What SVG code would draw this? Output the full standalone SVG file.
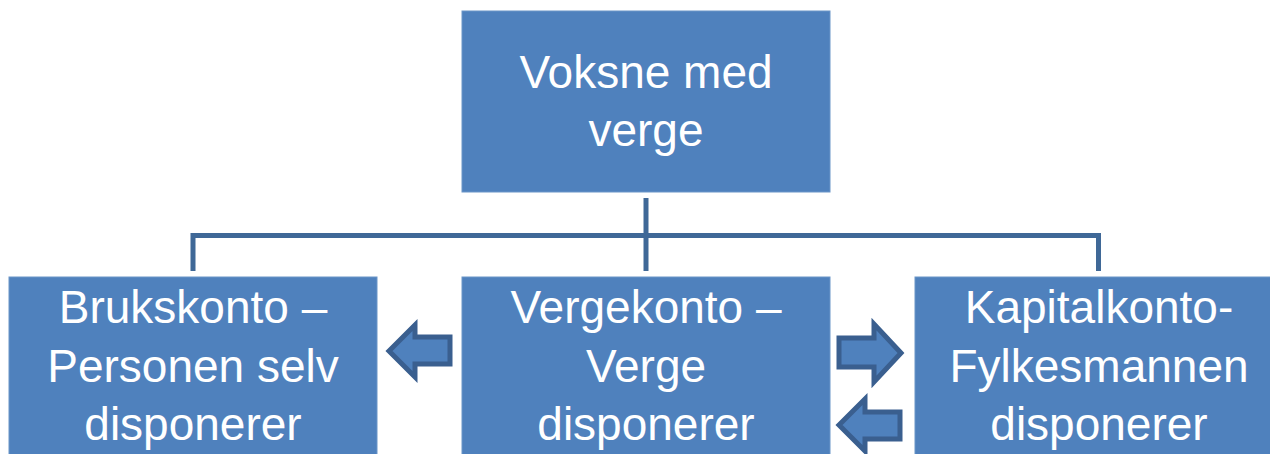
<svg xmlns="http://www.w3.org/2000/svg" width="1270" height="454" viewBox="0 0 1270 454">
<style>
.box{fill:#4f81bd;stroke:#6b95c8;stroke-width:1}
.t{font-family:"Liberation Sans",Arial,sans-serif;font-size:46px;fill:#ffffff;text-anchor:middle}
.conn{fill:none;stroke:#3f6897;stroke-width:5}
.arr{fill:#4f81bd;stroke:#3a5f8f;stroke-width:5;stroke-linejoin:miter}
</style>
<rect width="1270" height="454" fill="#ffffff"/>
<g id="connectors">
<path class="conn" d="M646 198V271"/>
<path class="conn" d="M193 271V235.5H1098.5V271"/>
</g>
<g id="top">
<rect class="box" x="462" y="11" width="368" height="181"/>
<text class="t" x="646" y="88">Voksne med</text>
<text class="t" x="646" y="146">verge</text>
</g>
<g id="left">
<rect class="box" x="9" y="277" width="368" height="190"/>
<text class="t" x="193" y="323">Brukskonto –</text>
<text class="t" x="193" y="382">Personen selv</text>
<text class="t" x="193" y="440">disponerer</text>
</g>
<g id="middle">
<rect class="box" x="462" y="277" width="368" height="190"/>
<text class="t" x="646" y="323">Vergekonto –</text>
<text class="t" x="646" y="382">Verge</text>
<text class="t" x="646" y="440">disponerer</text>
</g>
<g id="right">
<rect class="box" x="915" y="277" width="368" height="190"/>
<text class="t" x="1099" y="323">Kapitalkonto-</text>
<text class="t" x="1099" y="382">Fylkesmannen</text>
<text class="t" x="1099" y="440">disponerer</text>
</g>
<g id="arrows">
<path class="arr" d="M389 351L415 325V337H450V364H415V377Z"/>
<path class="arr" d="M901 353L874 324V338H839V367H874V382Z"/>
<path class="arr" d="M839 425L865 399V412H900V439H865V451Z"/>
</g>
</svg>
